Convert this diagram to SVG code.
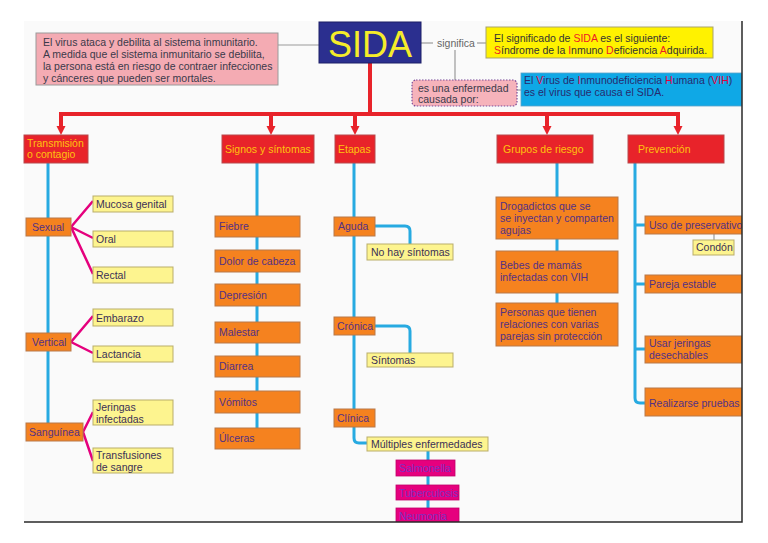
<svg xmlns="http://www.w3.org/2000/svg" width="768" height="543" viewBox="0 0 768 543">
<style>
text{font-family:"Liberation Sans",Arial,sans-serif;font-size:10.5px}
.hdr rect{fill:#e8232a;stroke:#b8484c;stroke-width:1}
.hdr text{fill:#ffc20e}
.org rect{fill:#f5821f;stroke:#b7794a;stroke-width:1}
.org text{fill:#533184}
.yel rect{fill:#fdf48f;stroke:#b9ad6a;stroke-width:1}
.yel text{fill:#3b3056}
.mag rect{fill:#e6007e;stroke:#c0006a;stroke-width:0.8}
.mag text{fill:#7d2fc2}
.red{fill:#e8232a}
.cy{fill:none;stroke:#27aae1;stroke-width:3}
.mg{fill:none;stroke:#e5007d;stroke-width:2.5}
.gr{fill:none;stroke:#9a9a9a;stroke-width:1.2}
.rd{fill:none;stroke:#e8232a;stroke-width:4}
</style>
<defs>
<marker id="arr" viewBox="0 0 10 10" refX="0" refY="5" markerWidth="9" markerHeight="10" markerUnits="userSpaceOnUse" orient="auto">
<path d="M0,0 L10,5 L0,10 z" fill="#e8232a"/>
</marker>
<clipPath id="clip"><rect x="0" y="0" width="742" height="522"/></clipPath>
</defs>
<rect x="0" y="0" width="768" height="543" fill="#ffffff"/>
<rect x="24" y="21" width="718" height="501" fill="#fafafa"/>
<g clip-path="url(#clip)">
<g id="connectors">
<path class="rd" d="M370,63 V114"/>
<path class="rd" d="M59,114 H680"/>
<path class="rd" d="M61,114 V126" marker-end="url(#arr)"/>
<path class="rd" d="M271,114 V126" marker-end="url(#arr)"/>
<path class="rd" d="M355,114 V126" marker-end="url(#arr)"/>
<path class="rd" d="M547,114 V126" marker-end="url(#arr)"/>
<path class="rd" d="M678,114 V126" marker-end="url(#arr)"/>
<path class="gr" d="M278,45 H319"/>
<path class="gr" d="M421,43 H433"/>
<path class="gr" d="M477,43 H486"/>
<path class="gr" d="M455,50 V80"/>
<path class="gr" d="M517,90 H521"/>
<path class="gr" d="M714,234 V240"/>
<path class="cy" d="M48,163 V423"/>
<path class="cy" d="M257,163 V428"/>
<path class="cy" d="M354,163 V409"/>
<path class="cy" d="M375,226 H405 Q410,226 410,231 V244"/>
<path class="cy" d="M375,326 H405 Q410,326 410,331 V353"/>
<path class="cy" d="M354,427 V438 Q354,443 359,443 H367"/>
<path class="cy" d="M428,451 V508"/>
<path class="cy" d="M557,163 V303"/>
<path class="cy" d="M635,163 V398 Q635,403 640,403 H645"/>
<path class="cy" d="M635,225 H645 M635,284 H645 M635,349 H645"/>
<path class="mg" d="M71,227 L93,201 M71,227 L93,238 M71,227 L93,274"/>
<path class="mg" d="M71,342 L93,316 M71,342 L93,353"/>
<path class="mg" d="M83,432 L93,412 M83,432 L93,461"/>
</g>
<g id="sida">
<rect x="319" y="22" width="102" height="41" fill="#2b2f8f" stroke="#1c1f66" stroke-width="1"/>
<text x="370" y="57" text-anchor="middle" style="font-size:36px" fill="#f5ec2a">SIDA</text>
</g>
<g id="desc">
<rect x="36" y="33" width="242" height="52" fill="#f4abb3" stroke="#9a9a9a" stroke-width="1"/>
<text fill="#3a3a4a"><tspan x="43" y="46">El virus ataca y debilita al sistema inmunitario.</tspan><tspan x="43" y="58">A medida que el sistema inmunitario se debilita,</tspan><tspan x="43" y="70">la persona está en riesgo de contraer infecciones</tspan><tspan x="43" y="82">y cánceres que pueden ser mortales.</tspan></text>
</g>
<g id="significa">
<text x="437" y="47" fill="#666">significa</text>
</g>
<g id="meaning">
<rect x="486" y="27" width="227" height="31" fill="#fff200" stroke="#a9a36a" stroke-width="1"/>
<text fill="#333"><tspan x="494" y="42">El significado de <tspan fill="#ed1c24">SIDA</tspan> es el siguiente:</tspan><tspan x="494" y="54"><tspan fill="#ed1c24">S</tspan>índrome de la <tspan fill="#ed1c24">I</tspan>nmuno <tspan fill="#ed1c24">D</tspan>eficiencia <tspan fill="#ed1c24">A</tspan>dquirida.</tspan></text>
</g>
<g id="causada">
<rect x="412" y="80" width="105" height="26" rx="4" fill="#f6b3bb" stroke="#7a4b9a" stroke-width="1.2" stroke-dasharray="1.5 1.5"/>
<text fill="#3a3a4a"><tspan x="418" y="92">es una enfermedad</tspan><tspan x="418" y="103">causada por:</tspan></text>
</g>
<g id="vih">
<rect x="521" y="73" width="221" height="33" fill="#0fa8e6" stroke="#5aa0c8" stroke-width="0.8"/>
<text fill="#272a6e"><tspan x="524" y="84">El <tspan fill="#e4003a">V</tspan>irus de <tspan fill="#e4003a">I</tspan>nmunodeficiencia <tspan fill="#e4003a">H</tspan>umana (<tspan fill="#e4003a">VIH</tspan>)</tspan><tspan x="524" y="96">es el virus que causa el SIDA.</tspan></text>
</g>
<g id="h-transmision" class="hdr"><rect x="24" y="135" width="64" height="28"/><text><tspan x="27" y="147">Transmisión</tspan><tspan x="27" y="158">o contagio</tspan></text></g>
<g id="h-signos" class="hdr"><rect x="222" y="135" width="92" height="28"/><text x="225" y="153">Signos y síntomas</text></g>
<g id="h-etapas" class="hdr"><rect x="335" y="135" width="40" height="28"/><text x="338" y="153">Etapas</text></g>
<g id="h-grupos" class="hdr"><rect x="497" y="135" width="96" height="28"/><text x="503" y="153">Grupos de riesgo</text></g>
<g id="h-prevencion" class="hdr"><rect x="628" y="135" width="96" height="28"/><text x="638" y="153">Prevención</text></g>
<g id="sexual" class="org"><rect x="26" y="218" width="45" height="18"/><text x="32" y="231">Sexual</text></g>
<g id="vertical" class="org"><rect x="26" y="333" width="45" height="18"/><text x="32" y="346">Vertical</text></g>
<g id="sanguinea" class="org"><rect x="26" y="423" width="57" height="18"/><text x="29" y="436">Sanguínea</text></g>
<g id="mucosa" class="yel"><rect x="93" y="196" width="80" height="16"/><text x="96" y="208">Mucosa genital</text></g>
<g id="oral" class="yel"><rect x="93" y="231" width="80" height="16"/><text x="96" y="243">Oral</text></g>
<g id="rectal" class="yel"><rect x="93" y="267" width="80" height="16"/><text x="96" y="279">Rectal</text></g>
<g id="embarazo" class="yel"><rect x="93" y="309" width="80" height="17"/><text x="96" y="322">Embarazo</text></g>
<g id="lactancia" class="yel"><rect x="93" y="346" width="80" height="16"/><text x="96" y="358">Lactancia</text></g>
<g id="jeringas" class="yel"><rect x="93" y="400" width="80" height="25"/><text><tspan x="96" y="411">Jeringas</tspan><tspan x="96" y="423">infectadas</tspan></text></g>
<g id="transfusiones" class="yel"><rect x="93" y="448" width="80" height="25"/><text><tspan x="96" y="459">Transfusiones</tspan><tspan x="96" y="471">de sangre</tspan></text></g>
<g id="fiebre" class="org"><rect x="215" y="216" width="85" height="21"/><text x="219" y="230">Fiebre</text></g>
<g id="dolor" class="org"><rect x="215" y="250" width="85" height="22"/><text x="219" y="265">Dolor de cabeza</text></g>
<g id="depresion" class="org"><rect x="215" y="284" width="85" height="22"/><text x="219" y="299">Depresión</text></g>
<g id="malestar" class="org"><rect x="215" y="322" width="85" height="21"/><text x="219" y="336">Malestar</text></g>
<g id="diarrea" class="org"><rect x="215" y="356" width="85" height="21"/><text x="219" y="370">Diarrea</text></g>
<g id="vomitos" class="org"><rect x="215" y="391" width="85" height="22"/><text x="219" y="406">Vómitos</text></g>
<g id="ulceras" class="org"><rect x="215" y="428" width="85" height="21"/><text x="219" y="442">Úlceras</text></g>
<g id="aguda" class="org"><rect x="334" y="217" width="41" height="19"/><text x="338" y="230">Aguda</text></g>
<g id="nohay" class="yel"><rect x="367" y="244" width="86" height="16"/><text x="371" y="256">No hay síntomas</text></g>
<g id="cronica" class="org"><rect x="334" y="317" width="41" height="18"/><text x="337" y="330">Crónica</text></g>
<g id="sintomas" class="yel"><rect x="367" y="353" width="86" height="14"/><text x="371" y="364">Síntomas</text></g>
<g id="clinica" class="org"><rect x="334" y="409" width="41" height="18"/><text x="337" y="422">Clínica</text></g>
<g id="multiples" class="yel"><rect x="367" y="437" width="121" height="14"/><text x="371" y="448">Múltiples enfermedades</text></g>
<g id="salmonella" class="mag"><rect x="396" y="460" width="59" height="16"/><text x="399" y="472">Salmonella</text></g>
<g id="tuberculosis" class="mag"><rect x="396" y="485" width="63" height="15"/><text x="399" y="497">Tuberculosis</text></g>
<g id="neumonia" class="mag"><rect x="396" y="508" width="63" height="16"/><text x="399" y="520">Neumonia</text></g>
<g id="drogadictos" class="org"><rect x="496" y="197" width="122" height="42"/><text><tspan x="500" y="210">Drogadictos que se</tspan><tspan x="500" y="222">se inyectan y comparten</tspan><tspan x="500" y="234">agujas</tspan></text></g>
<g id="bebes" class="org"><rect x="496" y="251" width="122" height="42"/><text><tspan x="500" y="269">Bebes de mamás</tspan><tspan x="500" y="281">infectadas con VIH</tspan></text></g>
<g id="personas" class="org"><rect x="496" y="303" width="122" height="43"/><text><tspan x="500" y="316">Personas que tienen</tspan><tspan x="500" y="328">relaciones con varias</tspan><tspan x="500" y="340">parejas sin protección</tspan></text></g>
<g id="uso" class="org"><rect x="645" y="216" width="100" height="18"/><text x="649" y="229">Uso de preservativo</text></g>
<g id="condon" class="yel"><rect x="693" y="240" width="41" height="15"/><text x="696" y="251">Condón</text></g>
<g id="pareja" class="org"><rect x="645" y="275" width="100" height="18"/><text x="649" y="288">Pareja estable</text></g>
<g id="usar" class="org"><rect x="645" y="336" width="100" height="27"/><text><tspan x="649" y="347">Usar jeringas</tspan><tspan x="649" y="359">desechables</tspan></text></g>
<g id="realizarse" class="org"><rect x="645" y="388" width="100" height="28"/><text x="649" y="407">Realizarse pruebas</text></g>
</g>
<path d="M742,21 V522 H24" fill="none" stroke="#2a2a2a" stroke-width="1.5"/>
</svg>
